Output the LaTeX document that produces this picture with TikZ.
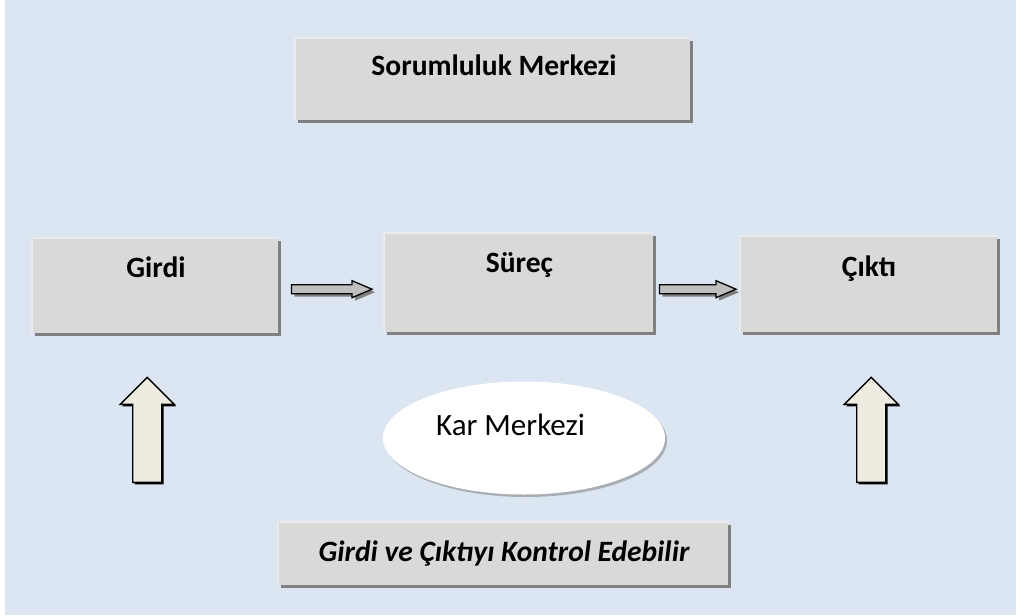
\documentclass[tikz,border=0pt]{standalone}
\usepackage{fontspec}
\setmainfont{Carlito}
\usetikzlibrary{calc,shadows,shapes.geometric}
\definecolor{bgblue}{HTML}{DCE6F2}
\definecolor{boxgray}{HTML}{D9D9D9}
\definecolor{shadowgray}{HTML}{808080}
\definecolor{ovalshadow}{HTML}{A9AEB4}
\definecolor{edgelight}{HTML}{EBEBEB}
\definecolor{cream}{HTML}{EEECE1}
\definecolor{arrowgray}{HTML}{BFBFBF}
\begin{document}
\begin{tikzpicture}[x=1pt,y=-1pt,
  boxshadow/.style={drop shadow={shadow xshift=3pt,shadow yshift=-3pt,fill=shadowgray,opacity=1}},
  box/.style={rectangle,fill=boxgray,inner sep=0pt,anchor=north west,boxshadow},
  edge/.style={draw=edgelight,line width=1.6pt},
  title/.style={font=\fontsize{29.5}{35}\selectfont\bfseries,inner sep=0pt,anchor=base},
  plain/.style={font=\fontsize{31}{37}\selectfont,inner sep=0pt,anchor=base},
  note/.style={font=\fontsize{29.5}{35}\selectfont\bfseries\itshape,inner sep=0pt,anchor=base},
  oval/.style={ellipse,fill=white,inner sep=0pt},
  flowarrow/.style={fill=arrowgray,draw=black,line width=1.3pt,line join=miter,
    drop shadow={shadow xshift=3pt,shadow yshift=-3pt,fill=shadowgray,opacity=1}},
  liftarrow/.style={fill=cream,draw=black,line width=1.4pt,line join=miter,
    drop shadow={shadow xshift=2pt,shadow yshift=-2pt,fill=black,opacity=1}},
]
% canvas
\useasboundingbox (0,0) rectangle (1016,615);
\fill[white] (0,0) rectangle (1016,615);
\fill[bgblue] (5,0) rectangle (1016,615);

% boxes
\node[box,minimum width=395,minimum height=82] (sm) at (295,38) {};
\node[box,minimum width=246,minimum height=95] (girdi) at (32,238) {};
\node[box,minimum width=269,minimum height=99] (surec) at (384,233) {};
\node[box,minimum width=257,minimum height=96] (cikti) at (740,236) {};
\node[box,minimum width=450,minimum height=63] (ctrl) at (278,522) {};
\foreach \b in {sm,girdi,surec,cikti,ctrl}
  \draw[edge] (\b.south west) -- (\b.north west) -- (\b.north east);

% labels
\node[title] (t-sm) at (494,76) {Sorumluluk Merkezi};
\node[title] (t-girdi) at (156,277) {Girdi};
\node[title] (t-surec) at (519.5,272) {Süreç};
\node[title] (t-cikti) at (869,276) {Çıktı};
\node[note] (t-ctrl) at (504,561) {Girdi ve Çıktıyı Kontrol Edebilir};

% profit centre, with its soft shadow underneath
\coordinate (karc) at (524,438);
\fill[ovalshadow] ($(karc)+(2,2.5)$) ellipse [x radius=141, y radius=56.5];
\node[oval,minimum width=282,minimum height=113] (kar) at (karc) {};
\node[plain] (t-kar) at (510.5,435) {Kar Merkezi};

% flow arrows between the boxes
\coordinate (a1s) at ($(girdi.east)+(13,3.5)$);
\coordinate (a1e) at ($(surec.west |- a1s)+(-12,0)$);
\coordinate (a2s) at ($(surec.east |- a1s)+(6,0)$);
\coordinate (a2e) at ($(cikti.west |- a1s)+(-4,0)$);
\foreach \s/\e in {a1s/a1e,a2s/a2e}
  \draw[flowarrow] ($(\s)+(0,-4.5)$) -- ($(\e)+(-20,-4.5)$) -- ($(\e)+(-20,-8.5)$)
    -- (\e) -- ($(\e)+(-20,8.5)$) -- ($(\e)+(-20,4.5)$) -- ($(\s)+(0,4.5)$) -- cycle;

% upward arrows under input and output
\coordinate (u1) at ($(girdi.south)+(-8,44)$);
\coordinate (u2) at ($(cikti.south)+(2.5,45)$);
\foreach \t in {u1,u2}
  \draw[liftarrow] (\t) -- ($(\t)+(27,27)$) -- ($(\t)+(14.5,27)$) -- ($(\t)+(14.5,105)$)
    -- ($(\t)+(-14.5,105)$) -- ($(\t)+(-14.5,27)$) -- ($(\t)+(-27,27)$) -- cycle;
\end{tikzpicture}
\end{document}
